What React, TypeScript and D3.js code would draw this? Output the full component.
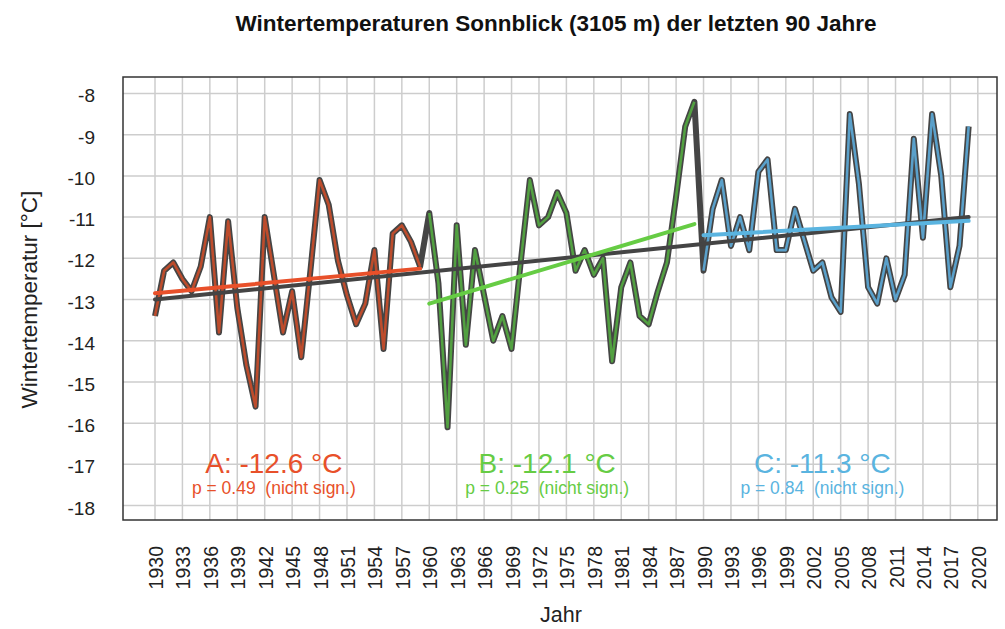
import React, { useEffect, useRef } from 'react';
import * as d3 from 'd3';

// Winter temperatures Sonnblick
const yearsA = d3.range(1930, 1960);
const valuesA = [
  -13.4, -12.3, -12.1, -12.5, -12.8, -12.2, -11.0, -13.8, -11.1, -13.2,
  -14.6, -15.6, -11.0, -12.4, -13.8, -12.8, -14.4, -12.3, -10.1, -10.7,
  -12.05, -12.9, -13.6, -13.1, -11.8, -14.2, -11.4, -11.2, -11.6, -12.2,
];
const yearsB = d3.range(1960, 1990);
const valuesB = [
  -10.9, -12.6, -16.1, -11.2, -14.1, -11.8, -12.9, -14.0, -13.4, -14.2,
  -12.1, -10.1, -11.2, -11.0, -10.4, -10.9, -12.3, -11.8, -12.4, -12.0,
  -14.5, -12.7, -12.1, -13.4, -13.6, -12.8, -12.1, -10.5, -8.8, -8.2,
];
const yearsC = d3.range(1990, 2020);
const valuesC = [
  -12.3, -10.8, -10.1, -11.7, -11.0, -11.8, -9.9, -9.6, -11.8, -11.8,
  -10.8, -11.55, -12.3, -12.1, -12.95, -13.3, -8.5, -10.2, -12.7, -13.1,
  -12.0, -13.0, -12.4, -9.1, -11.5, -8.5, -10.0, -12.7, -11.7, -8.8,
];

// trend lines: [start year, start value, end year, end value]
const trendAll = [1930, -13.0, 2019, -11.0];
const trendA = [1930, -12.85, 1959, -12.25];
const trendB = [1960, -13.1, 1989, -11.17];
const trendC = [1990, -11.44, 2019, -11.09];

const yTicks = [-8, -9, -10, -11, -12, -13, -14, -15, -16, -17, -18];
const xTicks = d3.range(1930, 2021, 3);

const periodLabels = ['A: -12.6 °C', 'B: -12.1 °C', 'C: -11.3 °C'];
const pLabels = ['p = 0.49  (nicht sign.)', 'p = 0.25  (nicht sign.)', 'p = 0.84  (nicht sign.)'];
const periodCenters = [1943.0, 1972.9, 2003.0];

const colorsLine = ['#bd4c2c', '#52a041', '#5aa0ca'];
const colorsTrend = ['#e8502a', '#66cc44', '#5ab4e0'];

const App = () => {
  const svgRef = useRef(null);

  useEffect(() => {
    const width = 1005;
    const height = 629;
    const svg = d3.select(svgRef.current);
    svg.selectAll('*').remove();
    svg.attr('width', width).attr('height', height);

    const font = '"Liberation Sans", Arial, sans-serif';
    const x = d3.scaleLinear().domain([1926.5, 2022.1]).range([123, 997]);
    const y = d3.scaleLinear().domain([-7.6, -18.35]).range([77, 520]);

    svg.append('rect').attr('width', width).attr('height', height).attr('fill', '#fff');

    // grid
    svg.append('g')
      .selectAll('line')
      .data(xTicks)
      .enter()
      .append('line')
      .attr('x1', d => x(d)).attr('x2', d => x(d))
      .attr('y1', y.range()[0]).attr('y2', y.range()[1])
      .attr('stroke', '#cdcdcd').attr('stroke-width', 1.5);
    svg.append('g')
      .selectAll('line')
      .data(yTicks)
      .enter()
      .append('line')
      .attr('x1', x.range()[0]).attr('x2', x.range()[1])
      .attr('y1', d => y(d)).attr('y2', d => y(d))
      .attr('stroke', '#cdcdcd').attr('stroke-width', 1.5);

    // box
    svg.append('rect')
      .attr('x', x.range()[0]).attr('y', y.range()[0])
      .attr('width', x.range()[1] - x.range()[0])
      .attr('height', y.range()[1] - y.range()[0])
      .attr('fill', 'none').attr('stroke', '#333').attr('stroke-width', 1.5);

    // y tick labels
    svg.append('g')
      .selectAll('text')
      .data(yTicks)
      .enter()
      .append('text')
      .attr('x', 95)
      .attr('y', d => y(d) + 9)
      .attr('text-anchor', 'end')
      .style('font-family', font)
      .style('font-size', '19px')
      .attr('fill', '#222')
      .text(d => d);

    // x tick labels (rotated)
    svg.append('g')
      .selectAll('text')
      .data(xTicks)
      .enter()
      .append('text')
      .attr('transform', d => `translate(${x(d) + 8},546) rotate(-90)`)
      .attr('text-anchor', 'end')
      .style('font-family', font)
      .style('font-size', '19.5px')
      .attr('fill', '#222')
      .text(d => d);

    // data line
    const line = d3.line<number[]>().x(d => x(d[0])).y(d => y(d[1]));
    const segs = [
      yearsA.map((yr, i) => [yr, valuesA[i]]),
      yearsB.map((yr, i) => [yr, valuesB[i]]),
      yearsC.map((yr, i) => [yr, valuesC[i]]),
    ];
    svg.append('path')
      .attr('d', line(segs.flat()))
      .attr('fill', 'none')
      .attr('stroke', '#454545')
      .attr('stroke-width', 6)
      .attr('stroke-linejoin', 'round');

    segs.forEach((s, i) => {
      svg.append('path')
        .attr('d', line(s))
        .attr('fill', 'none')
        .attr('stroke', colorsLine[i])
        .attr('stroke-width', 2.6)
        .attr('stroke-linejoin', 'round');
    });

    // trend lines
    const drawTrend = (t, color) => {
      svg.append('line')
        .attr('x1', x(t[0])).attr('y1', y(t[1]))
        .attr('x2', x(t[2])).attr('y2', y(t[3]))
        .attr('stroke', color).attr('stroke-width', 4)
        .attr('stroke-linecap', 'round');
    };
    drawTrend(trendAll, '#444');
    [trendA, trendB, trendC].forEach((t, i) => drawTrend(t, colorsTrend[i]));

    // period annotations
    periodLabels.forEach((lbl, i) => {
      svg.append('text')
        .attr('x', x(periodCenters[i]))
        .attr('y', 473)
        .attr('text-anchor', 'middle')
        .style('font-family', font)
        .style('font-size', '28px')
        .attr('fill', colorsTrend[i])
        .text(lbl);
      svg.append('text')
        .attr('x', x(periodCenters[i]))
        .attr('y', 494)
        .attr('text-anchor', 'middle')
        .attr('xml:space', 'preserve')
        .style('white-space', 'pre')
        .style('font-family', font)
        .style('font-size', '17.5px')
        .attr('fill', colorsTrend[i])
        .text(pLabels[i]);
    });

    // title
    svg.append('text')
      .attr('x', 556)
      .attr('y', 31)
      .attr('text-anchor', 'middle')
      .style('font-family', font)
      .style('font-size', '22.5px')
      .style('font-weight', 'bold')
      .attr('fill', '#111')
      .text('Wintertemperaturen Sonnblick (3105 m) der letzten 90 Jahre');

    // axis titles
    svg.append('text')
      .attr('transform', `translate(37,${y(-13)}) rotate(-90)`)
      .attr('text-anchor', 'middle')
      .style('font-family', font)
      .style('font-size', '22.5px')
      .attr('fill', '#222')
      .text('Wintertemperatur [°C]');
    svg.append('text')
      .attr('x', 561)
      .attr('y', 622)
      .attr('text-anchor', 'middle')
      .style('font-family', font)
      .style('font-size', '21.5px')
      .attr('fill', '#222')
      .text('Jahr');
  }, []);

  return (
    <svg ref={svgRef} style={{ position: 'absolute', left: 0, top: 0 }}></svg>
  );
};

export default App;
